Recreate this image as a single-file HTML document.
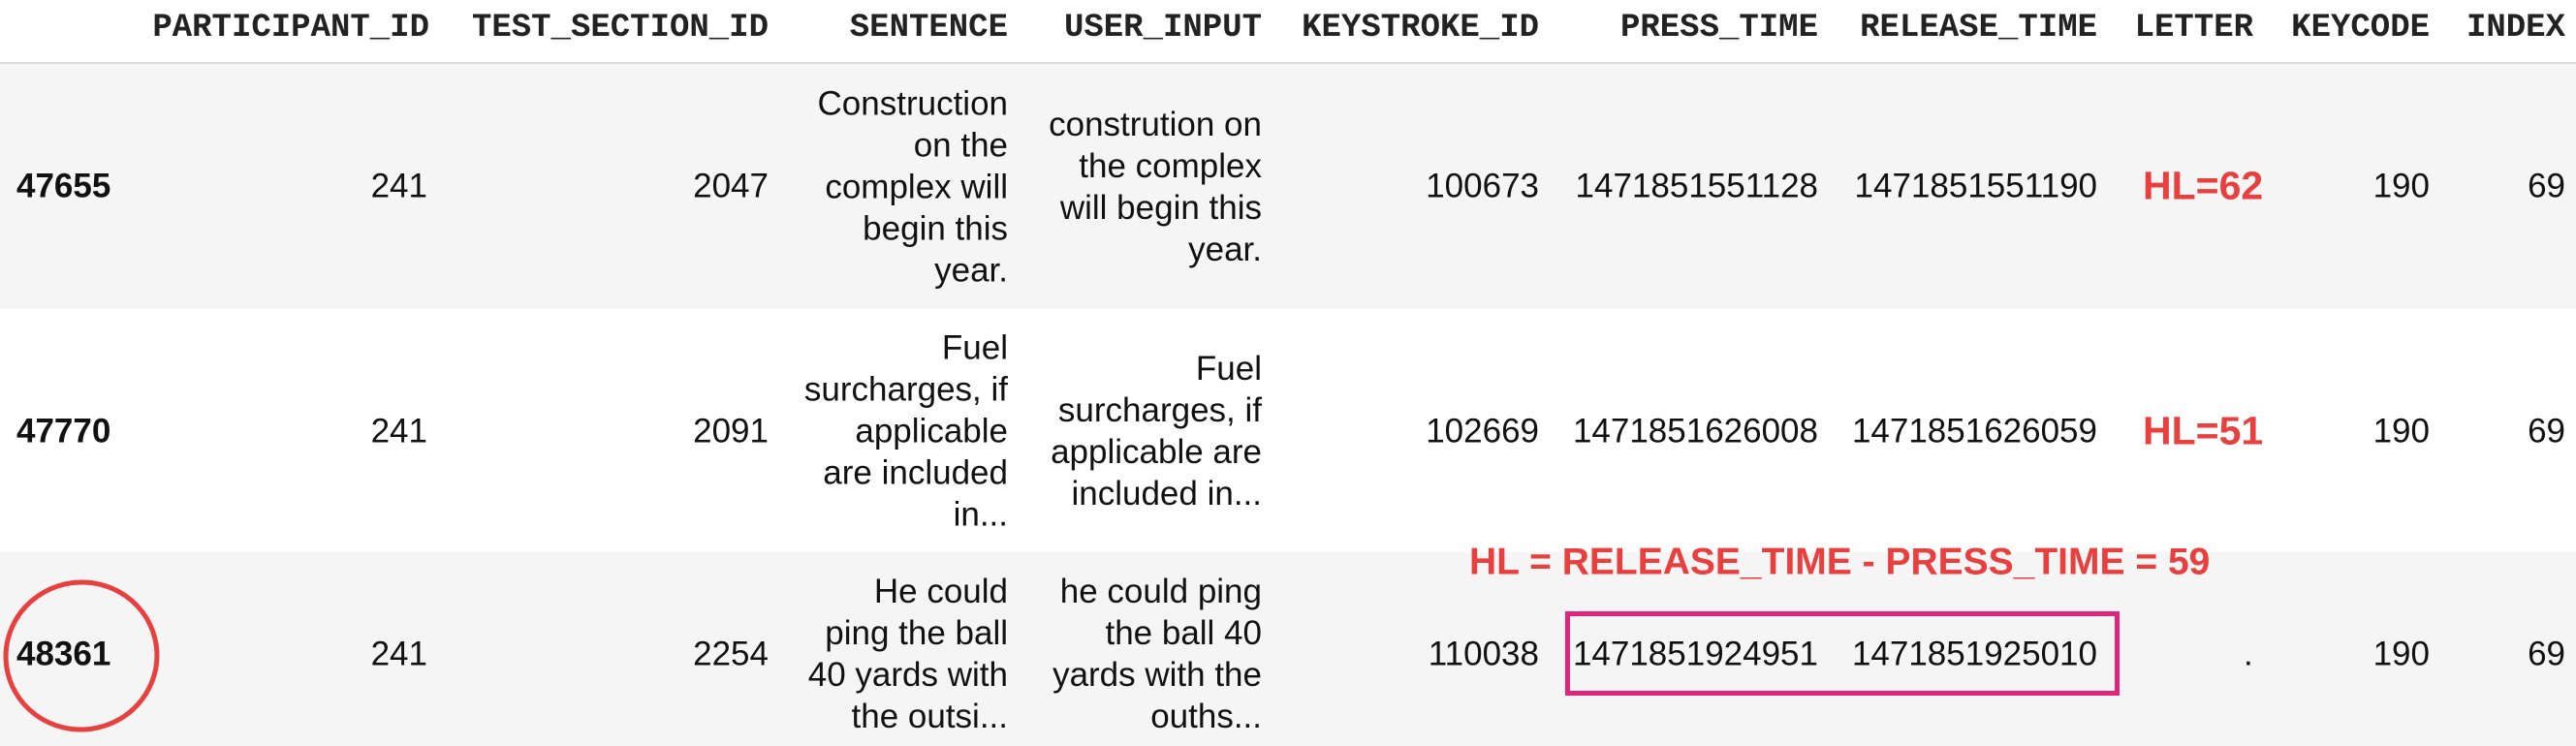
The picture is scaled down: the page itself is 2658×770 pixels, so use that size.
<!DOCTYPE html>
<html><head><meta charset="utf-8"><style>
body{margin:0;width:2658px;height:770px;overflow:hidden;background:#fff;font-family:"Liberation Sans",Arial,sans-serif;color:#111;position:relative}
.row{position:absolute;left:0;width:2658px}
.c{position:absolute;transform:translateY(-50%);font-size:35px;line-height:43px;white-space:nowrap;text-align:right}
.h{position:absolute;top:29px;transform:translateY(-50%);font-family:"Liberation Mono",monospace;font-weight:bold;font-size:34px;white-space:nowrap;color:#222}
.b{font-weight:bold}
.red{color:#e8403f;font-weight:bold}
</style></head><body>
<div class="row" style="top:0;height:64px;border-bottom:2px solid #d9d9d9"></div>
<div class="h" style="right:2215px">PARTICIPANT_ID</div>
<div class="h" style="right:1865px">TEST_SECTION_ID</div>
<div class="h" style="right:1618px">SENTENCE</div>
<div class="h" style="right:1356px">USER_INPUT</div>
<div class="h" style="right:1070px">KEYSTROKE_ID</div>
<div class="h" style="right:782px">PRESS_TIME</div>
<div class="h" style="right:494px">RELEASE_TIME</div>
<div class="h" style="right:333px">LETTER</div>
<div class="h" style="right:151px">KEYCODE</div>
<div class="h" style="right:11px">INDEX</div>

<div class="row" style="top:66px;height:252px;background:#f5f5f5"></div>
<div class="row" style="top:318px;height:252px;background:#fff"></div>
<div class="row" style="top:570px;height:200px;background:#f5f5f5"></div>

<!-- row 1 -->
<div class="c b" style="left:17px;top:192px;text-align:left">47655</div>
<div class="c" style="right:2217px;top:192px">241</div>
<div class="c" style="right:1865px;top:192px">2047</div>
<div class="c" style="right:1618px;top:193px">Construction<br>on the<br>complex will<br>begin this<br>year.</div>
<div class="c" style="right:1356px;top:193px">constrution on<br>the complex<br>will begin this<br>year.</div>
<div class="c" style="right:1070px;top:192px">100673</div>
<div class="c" style="right:782px;top:192px">1471851551128</div>
<div class="c" style="right:494px;top:192px">1471851551190</div>
<div class="c red" style="left:2211px;top:192px;text-align:left;font-size:41px">HL=62</div>
<div class="c" style="right:151px;top:192px">190</div>
<div class="c" style="right:11px;top:192px">69</div>

<!-- row 2 -->
<div class="c b" style="left:17px;top:445px;text-align:left">47770</div>
<div class="c" style="right:2217px;top:445px">241</div>
<div class="c" style="right:1865px;top:445px">2091</div>
<div class="c" style="right:1618px;top:445px">Fuel<br>surcharges, if<br>applicable<br>are included<br>in...</div>
<div class="c" style="right:1356px;top:445px">Fuel<br>surcharges, if<br>applicable are<br>included in...</div>
<div class="c" style="right:1070px;top:445px">102669</div>
<div class="c" style="right:782px;top:445px">1471851626008</div>
<div class="c" style="right:494px;top:445px">1471851626059</div>
<div class="c red" style="left:2211px;top:445px;text-align:left;font-size:41px">HL=51</div>
<div class="c" style="right:151px;top:445px">190</div>
<div class="c" style="right:11px;top:445px">69</div>

<!-- row 3 -->
<div class="c b" style="left:17px;top:675px;text-align:left">48361</div>
<div class="c" style="right:2217px;top:675px">241</div>
<div class="c" style="right:1865px;top:675px">2254</div>
<div class="c" style="right:1618px;top:675px">He could<br>ping the ball<br>40 yards with<br>the outsi...</div>
<div class="c" style="right:1356px;top:675px">he could ping<br>the ball 40<br>yards with the<br>ouths...</div>
<div class="c" style="right:1070px;top:675px">110038</div>
<div class="c" style="right:782px;top:675px">1471851924951</div>
<div class="c" style="right:494px;top:675px">1471851925010</div>
<div class="c" style="left:2315px;top:675px;text-align:left">.</div>
<div class="c" style="right:151px;top:675px">190</div>
<div class="c" style="right:11px;top:675px">69</div>

<div class="c red" style="left:1516px;top:580px;text-align:left;font-size:39px">HL = RELEASE_TIME - PRESS_TIME = 59</div>
<div style="position:absolute;left:1615px;top:631px;width:562px;height:77px;border:5px solid #e0267a"></div>
<svg style="position:absolute;left:0;top:0" width="2658" height="770">
<ellipse cx="84" cy="677" rx="78" ry="76" fill="none" stroke="#e8403f" stroke-width="5" transform="rotate(-8 84 677)"/>
</svg>
</body></html>
